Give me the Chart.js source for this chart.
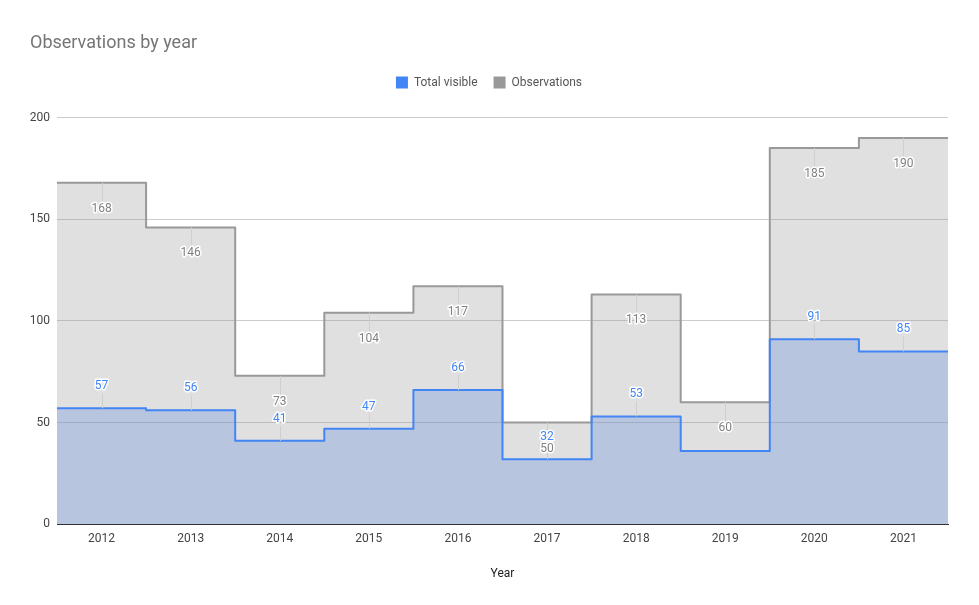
<!DOCTYPE html>
<html>
<head>
<meta charset="utf-8">
<title>Observations by year</title>
<script src="https://cdn.jsdelivr.net/npm/chart.js@4.4.0/dist/chart.umd.min.js"></script>
<style>
  html, body { margin: 0; padding: 0; background: #fff; }
  .chart_wrap { width: 979px; height: 605px; }
</style>
</head>
<body>
<div class="chart_wrap"><canvas id="yearChart"></canvas></div>
<script>
var years = [2012, 2013, 2014, 2015, 2016, 2017, 2018, 2019, 2020, 2021];
var totalVisible = [57, 56, 41, 47, 66, 32, 53, 36, 91, 85];
var observations = [168, 146, 73, 104, 117, 50, 113, 60, 185, 190];
var yTicks = [0, 50, 100, 150, 200];

Chart.defaults.font.family = 'Roboto';

// 연도마다 구간 전체를 덮는 계단 점
function stepPoints(values) {
  var pts = years.map(function(y, i) {
    return { x: y - 0.5, y: values[i] };
  });
  pts.push({ x: years[years.length - 1] + 0.5, y: values[values.length - 1] });
  return pts;
}

// 범례 아래 여백
var legendGap = {
  id: 'legendGap',
  beforeInit: function(chart) {
    var fit = chart.legend.fit;
    chart.legend.fit = function() {
      fit.call(this);
      this.height += 19;
    };
  }
};

// 값 라벨 (회색은 선 아래, 파란색은 선 위, 겹치면 생략)
var stepLabels = {
  id: 'stepLabels',
  afterDatasetsDraw: function(chart) {
    var ctx = chart.ctx;
    var xs = chart.scales.x, ys = chart.scales.y;
    var items = [];
    ctx.save();
    ctx.font = '12px Roboto';
    [1, 0].forEach(function(di) {
      var ds = chart.data.datasets[di];
      var below = di === 1;
      ds.labelValues.forEach(function(v, i) {
        var x = xs.getPixelForValue(years[i]);
        var y = ys.getPixelForValue(v);
        var cy = below ? y + 26 : y - 22;
        var w = ctx.measureText(String(v)).width;
        var box = { l: x - w / 2, r: x + w / 2, t: cy - 5, b: cy + 5 };
        var hit = items.some(function(it) {
          var b = it.box;
          return !(box.r < b.l || box.l > b.r || box.b <= b.t || box.t >= b.b);
        });
        if (hit) return;
        items.push({ box: box, x: x, y: y, cy: cy, below: below, text: String(v), color: ds.labelColor });
      });
    });
    // 지시선
    ctx.strokeStyle = '#cfcfcf';
    ctx.lineWidth = 1;
    items.forEach(function(it) {
      var sx = Math.round(it.x) + 0.5;
      ctx.beginPath();
      ctx.moveTo(sx, it.y);
      ctx.lineTo(sx, it.below ? it.cy - 7 : it.cy + 7);
      ctx.stroke();
    });
    ctx.textAlign = 'center';
    ctx.textBaseline = 'middle';
    ctx.lineJoin = 'round';
    items.forEach(function(it) {
      ctx.lineWidth = 3;
      ctx.strokeStyle = '#fff';
      ctx.strokeText(it.text, it.x, it.cy);
      ctx.fillStyle = it.color;
      ctx.fillText(it.text, it.x, it.cy);
    });
    ctx.restore();
  }
};

var yearChart = new Chart(document.getElementById('yearChart'), {
  type: 'line',
  data: {
    datasets: [{
      label: 'Total visible',
      data: stepPoints(totalVisible),
      labelValues: totalVisible,
      labelColor: '#4285f4',
      borderColor: '#4285f4',
      backgroundColor: 'rgba(110, 147, 221, 0.35)',
      fill: 'origin',
      stepped: 'before',
      borderWidth: 2,
      borderJoinStyle: 'round',
      pointRadius: 0
    }, {
      label: 'Observations',
      data: stepPoints(observations),
      labelValues: observations,
      labelColor: '#808080',
      borderColor: '#999999',
      backgroundColor: 'rgba(153, 153, 153, 0.3)',
      fill: 'origin',
      stepped: 'before',
      borderWidth: 2,
      borderJoinStyle: 'round',
      pointRadius: 0
    }]
  },
  options: {
    responsive: true,
    maintainAspectRatio: false,
    animation: false,
    events: [],
    layout: {
      padding: { left: 30, right: 31, top: 0, bottom: 24 }
    },
    plugins: {
      title: {
        display: true,
        text: 'Observations by year',
        align: 'start',
        color: '#757575',
        font: { size: 18, weight: 'normal' },
        padding: { top: 33, bottom: 6 }
      },
      legend: {
        labels: {
          boxWidth: 12,
          boxHeight: 12,
          padding: 16,
          color: '#555',
          font: { size: 12 },
          generateLabels: function(chart) {
            var items = Chart.defaults.plugins.legend.labels.generateLabels(chart);
            items.forEach(function(it) {
              it.fillStyle = it.strokeStyle;
              it.lineWidth = 0;
            });
            return items;
          }
        }
      },
      tooltip: { enabled: false }
    },
    scales: {
      x: {
        type: 'linear',
        min: years[0] - 0.5,
        max: years[years.length - 1] + 0.5,
        afterBuildTicks: function(scale) {
          scale.ticks = years.map(function(y) { return { value: y }; });
        },
        grid: { display: false },
        border: { display: true, color: '#333', width: 1 },
        ticks: {
          color: '#444',
          font: { size: 12 },
          padding: 0,
          maxRotation: 0,
          autoSkip: false,
          callback: function(v) { return String(v); }
        },
        title: {
          display: true,
          text: 'Year',
          color: '#222',
          font: { size: 12 },
          padding: { top: 20, bottom: 0 }
        }
      },
      y: {
        min: 0,
        max: 200,
        afterBuildTicks: function(scale) {
          scale.ticks = yTicks.map(function(v) { return { value: v }; });
        },
        afterFit: function(scale) {
          scale.width = 27;
        },
        grid: { color: '#cccccc', drawTicks: false },
        border: { display: false },
        ticks: {
          color: '#444',
          font: { size: 12 },
          padding: 7
        }
      }
    }
  },
  plugins: [legendGap, stepLabels]
});
</script>
</body>
</html>
